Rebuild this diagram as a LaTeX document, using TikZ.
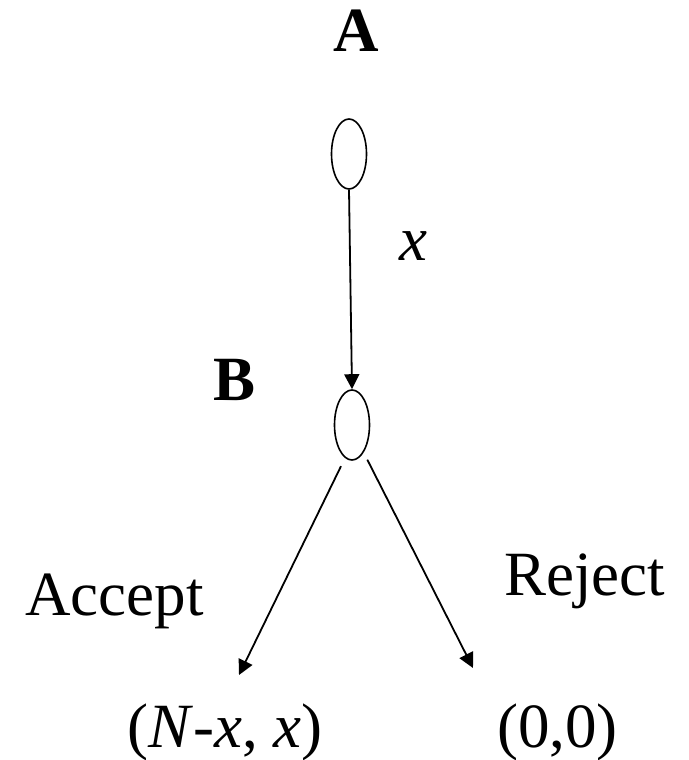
\documentclass[tikz,border=0pt]{standalone}
\usepackage{fontspec}
\setmainfont{Liberation Serif}
\usetikzlibrary{shapes.geometric,arrows.meta}
\begin{document}
\begin{tikzpicture}[x=1pt,y=-1pt,
  txt/.style={inner sep=0pt,anchor=base west,font=\fontsize{63}{70}\selectfont},
  dnode/.style={draw,ellipse,line width=1.6pt,minimum width=35pt,minimum height=70pt,inner sep=0pt},
  conn/.style={line width=1.8pt,-{Triangle[length=15pt,width=15pt]}}]
\useasboundingbox (0,0) rectangle (688,760);
\node[dnode] (a) at (349,154) {};
\node[dnode] (b) at (352,425) {};
\node[txt,font=\fontsize{63}{70}\selectfont\bfseries] (la) at (333,52) {A};
\node[txt,font=\fontsize{63}{70}\selectfont\bfseries] (lb) at (213,400) {B};
\node[txt] (lx) at (399,260) {\textit{x}};
\node[txt] (acc) at (25,615) {Accept};
\node[txt] (rej) at (504,595) {Reject};
\node[txt] (pl) at (127,747) {(\textit{N}-\textit{x}, \textit{x})};
\node[txt] (pr) at (497,747) {(0,0)};
\coordinate (tl) at (239,675);
\coordinate (tr) at (473,668);
\draw[conn] (a.south) -- (b.north);
\draw[conn,shorten <=9pt] (b.258) -- (tl);
\draw[conn,shorten <=8pt] (b.-67) -- (tr);
\end{tikzpicture}
\end{document}
